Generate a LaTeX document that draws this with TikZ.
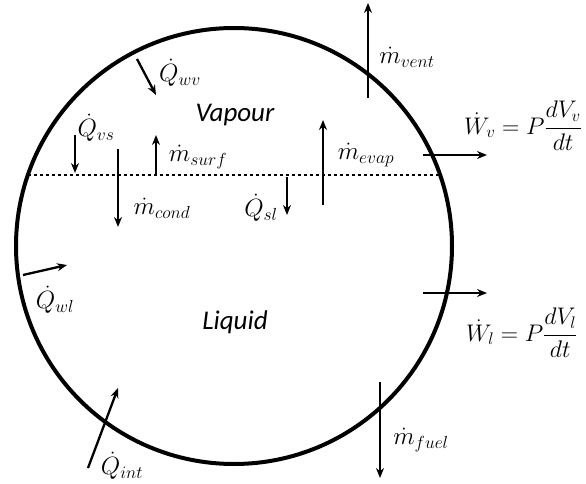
\documentclass[tikz,border=0pt]{standalone}
\usepackage{fix-cm}
\usepackage{amsmath}
\usepackage{fontspec}
\setsansfont{Carlito}
\usetikzlibrary{arrows.meta}
\begin{document}
\begin{tikzpicture}[x=1pt,y=-1pt,>={Stealth[length=10pt,width=8pt]}]
	\tikzset{flow/.style={->,line width=2.3pt}}
	\tikzset{lab/.style={font=\fontsize{25}{29}\selectfont,inner sep=0pt}}
	\tikzset{eqn/.style={font=\fontsize{24}{28}\selectfont,inner sep=0pt,anchor=west}}
	\tikzset{phase/.style={font=\sffamily\itshape\fontsize{27}{30}\selectfont,inner sep=0pt}}
	\def\cx{234}
	\def\cy{246}
	\def\rad{218}
	\useasboundingbox (0,0) rectangle (586,484);
	% tank and free surface
	\draw[line width=4pt] (\cx,\cy) circle (\rad pt);
	\draw[line width=2.6pt,dash pattern=on 3pt off 3pt] (28,175)--(440,175);
	\node[phase] (vap) at (235,115) {Vapour};
	\node[phase] (liq) at (235,322) {Liquid};
	% heat flows
	\draw[flow] (137,59)--(156,95);
	\node[lab] (qwv) at (180,73) {$\dot{Q}_{wv}$};
	\draw[flow] (75,135)--(75,173);
	\node[lab] (qvs) at (96,128) {$\dot{Q}_{vs}$};
	\draw[flow] (287,177)--(287,215);
	\node[lab] (qsl) at (261,208) {$\dot{Q}_{sl}$};
	\draw[flow] (23,275)--(67,265);
	\node[lab] (qwl) at (55,300) {$\dot{Q}_{wl}$};
	\draw[flow] (88,468)--(118,388);
	\node[lab] (qint) at (122,466) {$\dot{Q}_{int}$};
	% mass flows
	\draw[flow] (118,149)--(118,227);
	\node[lab] (mcond) at (162,208) {$\dot{m}_{cond}$};
	\draw[flow] (156,175)--(156,135);
	\node[lab] (msurf) at (198,157) {$\dot{m}_{surf}$};
	\draw[flow] (323,205)--(323,120);
	\node[lab] (mevap) at (366,155) {$\dot{m}_{evap}$};
	\draw[flow] (368,98)--(368,3);
	\node[lab] (mvent) at (407,57) {$\dot{m}_{vent}$};
	\draw[flow] (380,382)--(380,478);
	\node[lab] (mfuel) at (421,440) {$\dot{m}_{fuel}$};
	% boundary work
	\draw[flow] (423,155)--(487,155);
	\node[eqn] (wv) at (464,126) {$\dot{W}_v=P\dfrac{dV_v}{dt}$};
	\draw[flow] (423,293)--(487,293);
	\node[eqn] (wl) at (466,333) {$\dot{W}_l=P\dfrac{dV_l}{dt}$};
\end{tikzpicture}
\end{document}
